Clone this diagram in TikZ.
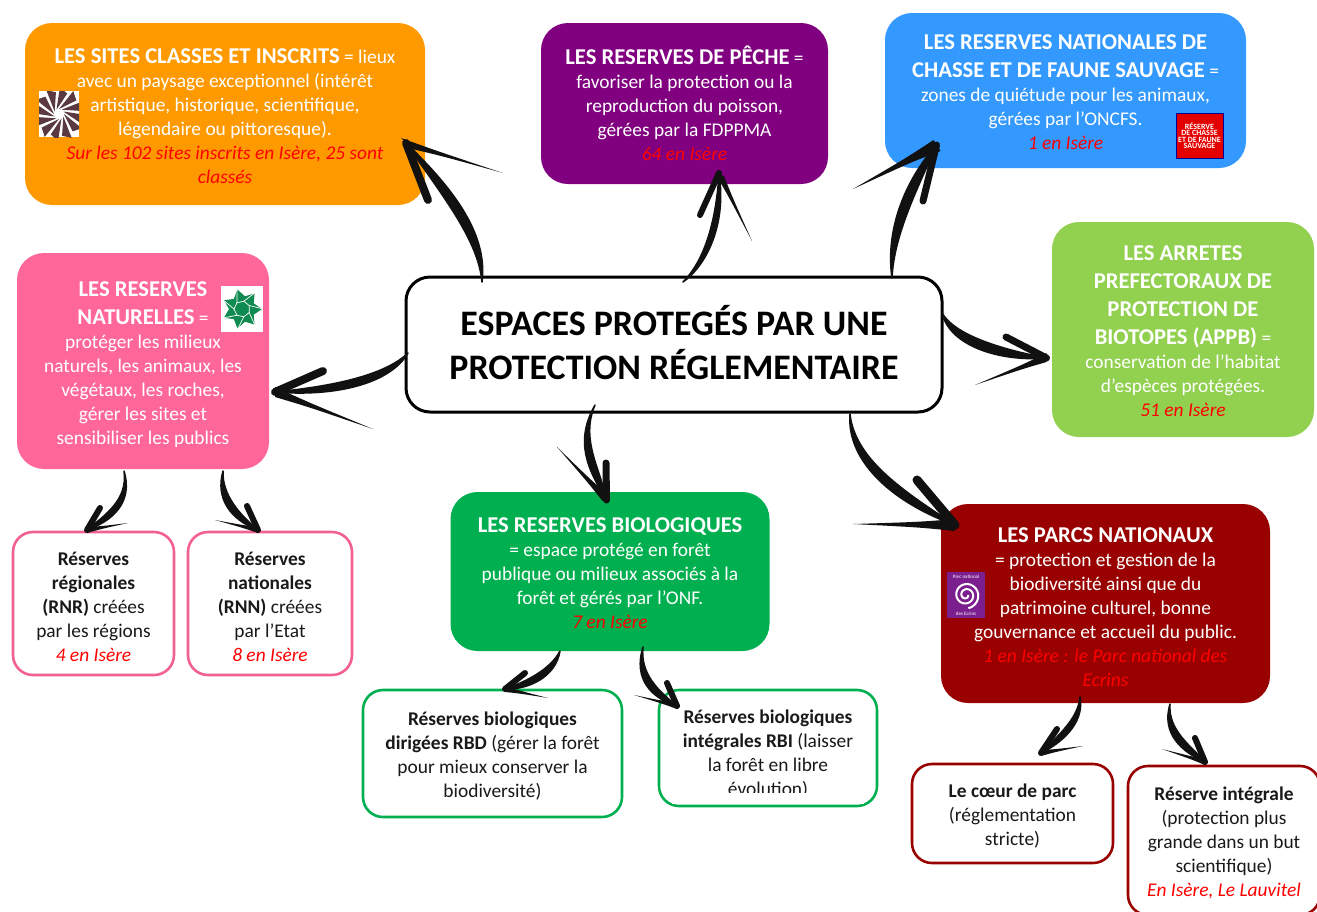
\documentclass[tikz,border=0pt]{standalone}
\usepackage{fontspec}
\setmainfont{Carlito}
\usetikzlibrary{calc}

\definecolor{orangeb}{HTML}{FF9900}
\definecolor{violetb}{HTML}{800080}
\definecolor{bleub}{HTML}{3399FF}
\definecolor{vertb}{HTML}{92D050}
\definecolor{roseb}{HTML}{FF6699}
\definecolor{foretb}{HTML}{00B050}
\definecolor{rougeb}{HTML}{990000}
\definecolor{brun}{HTML}{5A3A40}
\definecolor{feuille}{HTML}{0F8A50}
\definecolor{ecrins}{HTML}{7B1F8E}
\definecolor{encre}{HTML}{111111}

\newcommand{\titre}[1]{{\fontsize{22.6}{24}\selectfont\bfseries #1}}
\newcommand{\isere}[1]{{\color{red}\itshape #1}}
\newcommand{\haut}[1]{\rule{0pt}{#1pt}}
\newcommand{\longue}[4]{\fill[pointe] ([shift={(#2)}]#1) .. controls ($(#1)!.35!(#4)+.45*(#2)$) .. (#4) .. controls ($(#1)!.35!(#4)+.45*(#3)$) .. ([shift={(#3)}]#1) -- cycle;}

\tikzset{
  boite/.style={rectangle, rounded corners=27pt, inner sep=0pt, outer sep=0pt, text=white, align=center,
    font=\fontsize{19.4}{24}\selectfont},
  sousboite/.style={rectangle, rounded corners=20pt, inner sep=0pt, outer sep=0pt, line width=2.6pt, fill=white,
    text=black!90, align=center, font=\fontsize{19.4}{24}\selectfont},
  brush/.style={draw=encre, fill=encre, line width=1.5pt, line join=round},
  barbe/.style={draw=encre, line cap=round},
  pointe/.style={fill=encre}
}

\begin{document}
\begin{tikzpicture}[x=1pt,y=-1pt]
\useasboundingbox (0,0) rectangle (1317,911);
\clip (0,0) rectangle (1317,911);

% the boxes
\draw (674,344.5) node (centre) [sousboite, draw=black, line width=3pt, rounded corners=24pt,
  minimum width=536pt, minimum height=135pt, text=black, font=\fontsize{35.9}{44}\selectfont\bfseries]
  {ESPACES PROTEGÉS PAR UNE\\PROTECTION RÉGLEMENTAIRE\rule[-4pt]{0pt}{0pt}};

\draw (225,114) node (sites) [boite, fill=orangeb, minimum width=400pt, minimum height=182pt]
  {\haut{18.5}\titre{LES SITES CLASSES ET INSCRITS} = lieux\\avec un paysage exceptionnel (intérêt\\artistique, historique, scientifique,\\légendaire ou pittoresque).\\\isere{Sur les 102 sites inscrits en Isère, 25 sont}\\\isere{classés}};

\draw (684.5,103.5) node (peche) [boite, fill=violetb, minimum width=287pt, minimum height=161pt]
  {\haut{17}\titre{LES RESERVES DE PÊCHE} =\\favoriser la protection ou la\\reproduction du poisson,\\gérées par la FDPPMA\\\isere{64 en Isère}};

\draw (1065.5,90.5) node (chasse) [boite, fill=bleub, minimum width=361pt, minimum height=155pt]
  {\haut{18.5}\titre{LES RESERVES NATIONALES DE}\\[4pt]\titre{CHASSE ET DE FAUNE SAUVAGE} =\\zones de quiétude pour les animaux,\\gérées par l’ONCFS.\\\isere{1 en Isère}};

\draw (1183,329.5) node (arretes) [boite, fill=vertb, minimum width=262pt, minimum height=215pt]
  {\haut{18.5}\titre{LES ARRETES}\\[4pt]\titre{PREFECTORAUX DE}\\[4pt]\titre{PROTECTION DE}\\[4pt]\titre{BIOTOPES (APPB)} =\\conservation de l’habitat\\d’espèces protégées.\\\isere{51 en Isère}};

\draw (143,361) node (naturelles) [boite, fill=roseb, minimum width=252pt, minimum height=216pt]
  {\haut{22}\titre{LES RESERVES}\\[4pt]\titre{NATURELLES} =\\protéger les milieux\\naturels, les animaux, les\\végétaux, les roches,\\gérer les sites et\\sensibiliser les publics};

\draw (93.5,603.5) node (rnr) [sousboite, draw=roseb!95!black, minimum width=161pt, minimum height=143pt]
  {\haut{21}\textbf{Réserves}\\\textbf{régionales}\\\textbf{(RNR)} créées\\par les régions\\\isere{4 en Isère}};

\draw (270,603.5) node (rnn) [sousboite, draw=roseb!95!black, minimum width=164pt, minimum height=143pt]
  {\haut{21}\textbf{Réserves}\\\textbf{nationales}\\\textbf{(RNN)} créées\\par l’Etat\\\isere{8 en Isère}};

\draw (610,571.5) node (biolog) [boite, fill=foretb, minimum width=319pt, minimum height=159pt]
  {\haut{18.5}\titre{LES RESERVES BIOLOGIQUES}\\= espace protégé en forêt\\publique ou milieux associés à la\\forêt et gérés par l’ONF.\\\isere{7 en Isère}};

\draw (492.5,753.5) node (rbd) [sousboite, draw=foretb, minimum width=259pt, minimum height=127pt]
  {\haut{18}\textbf{Réserves biologiques}\\\textbf{dirigées RBD} (gérer la forêt\\pour mieux conserver la\\biodiversité)};

\draw (768,748) node (rbi) [sousboite, draw=foretb, minimum width=218pt, minimum height=116pt]
  {\haut{25}\textbf{Réserves biologiques}\\\textbf{intégrales RBI} (laisser\\la forêt en libre\\évolution)};
\fill[white] (672,793) rectangle (864,804);

\draw (1105.5,603.5) node (parcs) [boite, fill=rougeb, minimum width=329pt, minimum height=199pt]
  {\haut{22.5}\titre{LES PARCS NATIONAUX}\\= protection et gestion de la\\biodiversité ainsi que du\\patrimoine culturel, bonne\\gouvernance et accueil du public.\\\isere{1 en Isère : le Parc national des}\\\isere{Ecrins}};

\draw (1012.5,813.5) node (coeur) [sousboite, draw=rougeb, minimum width=201pt, minimum height=99pt]
  {\haut{19}\textbf{Le cœur de parc}\\(réglementation\\stricte)};

\draw (1224,840.5) node (integrale) [sousboite, draw=rougeb, minimum width=192pt, minimum height=149pt]
  {\haut{18}\textbf{Réserve intégrale}\\(protection plus\\grande dans un but\\scientifique)\\\isere{En Isère, Le Lauvitel}};

% the logos
\fill[white] (39,91) rectangle (79,137);
\begin{scope}[shift={(59,114)}]
\clip (-20,-23) rectangle (20,23);
\foreach \a in {0,30,...,330}
  \fill[brun] (\a:5) -- (\a+32:27) -- (\a+52:22) -- cycle;
\fill[white] (0,0) circle (5);
\end{scope}

\fill[white] (221,286) rectangle (263,332);
\begin{scope}[shift={(242,309)}]
\fill[feuille] (0:20) -- (26:13) -- (51:20) -- (77:13) -- (103:20) -- (129:13) -- (154:20) -- (180:13)
  -- (206:20) -- (231:13) -- (257:20) -- (283:13) -- (309:20) -- (334:13) -- cycle;
\draw[white, line width=.7pt] (26:8) -- (77:8) -- (129:8) -- (180:8) -- (231:8) -- (283:8) -- (334:8) -- cycle;
\foreach \a in {26,77,129,180,231,283,334}
  \draw[white, line width=.7pt] (\a:8) -- (\a+25:20);
\end{scope}

\draw[fill=red!90!black, draw=blue!60!black, line width=.8pt] (1176,113) rectangle (1223,158);
\draw (1199.5,135.5) node (logochasse) [text=white, align=center, inner sep=0pt, font=\fontsize{8}{6.4}\selectfont\bfseries]
  {RÉSERVE\\DE CHASSE\\ET DE FAUNE\\SAUVAGE};

\fill[ecrins] (947,572) rectangle (985,618);
\draw (966,577) node (logoparc) [text=white, inner sep=0pt, font=\fontsize{5}{5}\selectfont] {Parc national};
\draw (966,614) node (logodes) [text=white, inner sep=0pt, font=\fontsize{5}{5}\selectfont] {des Ecrins};
\draw[white, line width=2pt, smooth] plot[domain=0:800, samples=50] ({966+(2+\x/70)*cos(\x)},{595+(2+\x/70)*sin(\x)});

% the brush arrows
\coordinate (tsites) at ([shift={(-19,29)}]sites.east);
\draw[brush] ([shift={(76,5)}]centre.north west) .. controls (488,235) and (455,190) .. (tsites) .. controls (444,198) and (478,240) .. cycle;
\draw[barbe, line width=8pt] (tsites) -- (428,200);
\longue{tsites}{-5,-5}{6,6}{503,173}

\coordinate (tpeche) at ([shift={(34.5,-11)}]peche.south);
\draw[brush] ([shift={(277,5)}]centre.north west) .. controls (703,262) and (716,225) .. (tpeche) .. controls (727,225) and (706,266) .. cycle;
\draw[barbe, line width=6pt] (tpeche) -- (700,215);
\longue{tpeche}{-4,0}{5,3}{752,241}

\coordinate (tchasse) at ([shift={(51.5,-23)}]chasse.south west);
\draw[brush] ([shift={(486,1)}]centre.north west) .. controls (885,230) and (905,180) .. (tchasse) .. controls (918,188) and (894,234) .. cycle;
\draw[barbe, line width=7pt] (tchasse) -- (923,201);
\longue{tchasse}{-3,-5}{4,6}{853,189}

\coordinate (tarretes) at ([shift={(-5.5,28.5)}]arretes.west);
\draw[brush] ([shift={(0,-31.5)}]centre.east) .. controls (955,335) and (1000,349) .. (tarretes) .. controls (1002,362) and (950,347) .. cycle;
\draw[barbe, line width=7pt] (tarretes) -- (1006,337);
\longue{tarretes}{0,-5}{0,4}{975,385}

\coordinate (tnaturelles) at ([shift={(6,31)}]naturelles.east);
\draw[brush] ([shift={(2,8.5)}]centre.west) .. controls (385,375) and (335,386) .. (tnaturelles) .. controls (335,397) and (390,384) .. cycle;
\draw[barbe, line width=8pt] (tnaturelles) -- (323,371);
\longue{tnaturelles}{0,-5}{0,5}{373,429}

\coordinate (tbiolog) at ([shift={(-3.5,8)}]biolog.north);
\draw[brush] ([shift={(-79,-7)}]centre.south) .. controls (580,440) and (601,470) .. (tbiolog) .. controls (588,470) and (574,442) .. cycle;
\draw[barbe, line width=7pt] (tbiolog) -- (606,463);
\longue{tbiolog}{-4,1}{3,-4}{557,447}

\coordinate (tparcs) at ([shift={(14,21)}]parcs.north west);
\draw[brush] ([shift={(176,2)}]centre.south) .. controls (855,460) and (905,492) .. (tparcs) .. controls (898,505) and (846,464) .. cycle;
\draw[barbe, line width=9pt] (tparcs) -- (917,480);
\longue{tparcs}{0,-6}{0,6}{853,524}

\coordinate (trnr) at ([shift={(-6.5,-2)}]rnr.north);
\draw[brush] ([shift={(-19,2)}]naturelles.south) .. controls (128,500) and (105,515) .. (trnr) .. controls (110,522) and (134,504) .. cycle;
\draw[barbe, line width=6pt] (trnr) -- (100,508);
\longue{trnr}{0,-3}{0,3}{128,523}

\coordinate (trnn) at ([shift={(-12,-2)}]rnn.north);
\draw[brush] ([shift={(80,2)}]naturelles.south) .. controls (222,495) and (240,515) .. (trnn) .. controls (231,520) and (215,499) .. cycle;
\draw[barbe, line width=6pt] (trnn) -- (247,506);
\longue{trnn}{0,-3}{0,3}{215,520}

\coordinate (trbd) at ([shift={(12.5,-1)}]rbd.north);
\draw[brush] ([shift={(-50,0)}]biolog.south) .. controls (550,670) and (525,682) .. (trbd) .. controls (528,690) and (556,677) .. cycle;
\draw[barbe, line width=6pt] (trbd) -- (525,673);
\longue{trbd}{0,-3}{0,3}{548,698}

\coordinate (trbi) at ([shift={(18,16)}]rbi.north west);
\draw[brush] ([shift={(33,-4)}]biolog.south) .. controls (640,675) and (660,692) .. (trbi) .. controls (651,698) and (633,679) .. cycle;
\draw[barbe, line width=6pt] (trbi) -- (667,683);
\longue{trbi}{0,-3}{0,3}{634,695}

\coordinate (tcoeur) at ([shift={(28.5,-11)}]coeur.north);
\draw[brush] ([shift={(-25.5,-6)}]parcs.south) .. controls (1078,720) and (1055,738) .. (tcoeur) .. controls (1060,744) and (1085,724) .. cycle;
\draw[barbe, line width=6pt] (tcoeur) -- (1057,729);
\longue{tcoeur}{0,-3}{0,3}{1083,746}

\coordinate (tintegrale) at ([shift={(-19,-4)}]integrale.north);
\draw[brush] ([shift={(64.5,1)}]parcs.south) .. controls (1168,730) and (1190,745) .. (tintegrale) .. controls (1182,752) and (1161,734) .. cycle;
\draw[barbe, line width=6pt] (tintegrale) -- (1195,738);
\longue{tintegrale}{0,-3}{0,3}{1162,749}
\end{tikzpicture}
\end{document}
